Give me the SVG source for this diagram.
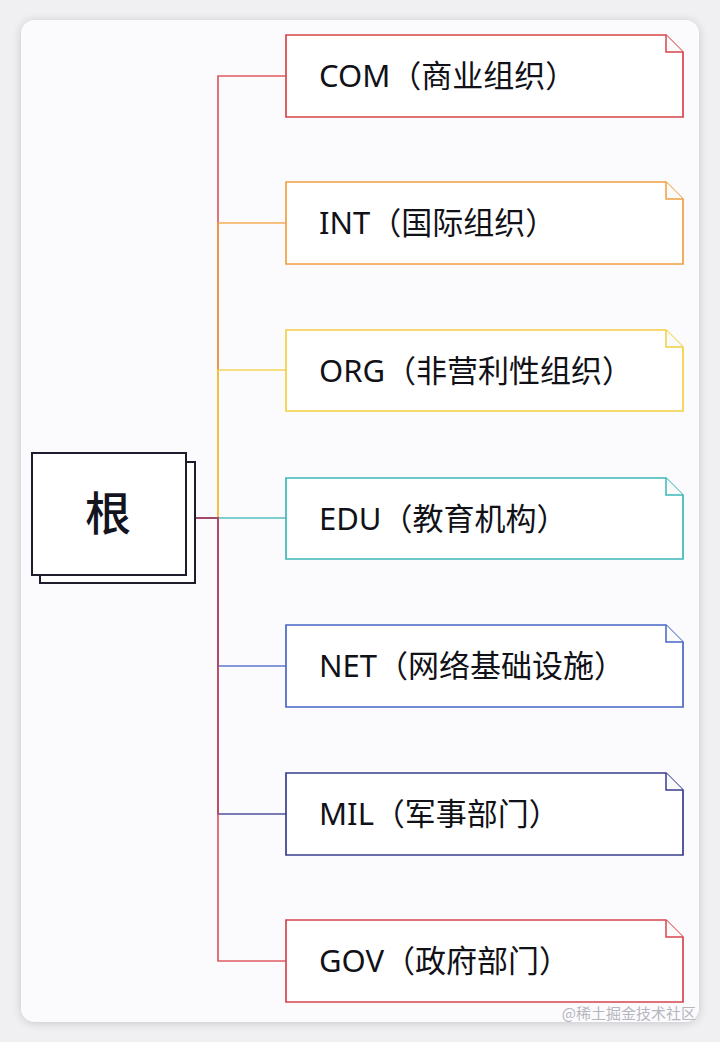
<svg xmlns="http://www.w3.org/2000/svg" width="720" height="1042" viewBox="0 0 720 1042">
<defs>
<filter id="sh" x="-5%" y="-5%" width="110%" height="110%">
<feGaussianBlur in="SourceAlpha" stdDeviation="5"/>
<feOffset dx="0" dy="1"/>
<feComponentTransfer><feFuncA type="linear" slope="0.18"/></feComponentTransfer>
<feMerge><feMergeNode/><feMergeNode in="SourceGraphic"/></feMerge>
</filter>
</defs>
<style>
.lbl{font-family:"Noto Sans","Noto Sans CJK SC",sans-serif;font-size:31px;fill:#111118}
.root{font-family:"Noto Sans CJK SC",sans-serif;font-size:46px;font-weight:500;fill:#14141f}
.node{fill:#ffffff;stroke-width:1.7}
.fold{fill:#fafafa;stroke-width:1.5}
.c{fill:none;stroke-width:1.7;opacity:0.88}
.wm{font-family:"Noto Sans CJK SC",sans-serif;font-size:15px;fill:#b6b6be}
</style>
<rect width="720" height="1042" fill="#f0f0f3"/>
<rect x="21" y="20" width="678" height="1002" rx="14" fill="#fbfbfd" filter="url(#sh)"/>

<g id="connectors">
<path class="c" stroke="#d8444a" d="M195 518 H218 V76 H286"/>
<path class="c" stroke="#f0a040" d="M195 518 H218 V223 H286"/>
<path class="c" stroke="#f2d040" d="M195 518 H218 V370 H286"/>
<path class="c" stroke="#3cb8b8" d="M195 518 H286"/>
<path class="c" stroke="#4866c8" d="M195 518 H218 V666 H286"/>
<path class="c" stroke="#383c8c" d="M195 518 H218 V814 H286"/>
<path class="c" stroke="#d8444e" d="M195 518 H218 V961 H286"/>
</g>

<g id="root">
<rect x="40" y="462" width="155" height="121" fill="#ffffff" stroke="#1c1c2c" stroke-width="2"/>
<rect x="32" y="453" width="154" height="122" fill="#ffffff" stroke="#1c1c2c" stroke-width="2"/>
<text class="root" x="108" y="530" text-anchor="middle">根</text>
</g>

<g id="com">
<path class="node" stroke="#d8444a" d="M286 35 H666 L683 52 V117 H286 Z"/>
<path class="fold" stroke="#d8444a" d="M666 35 V52 H683"/>
<text class="lbl" x="319" y="87">COM（商业组织）</text>
</g>
<g id="int">
<path class="node" stroke="#f0a040" d="M286 182 H666 L683 199 V264 H286 Z"/>
<path class="fold" stroke="#f0a040" d="M666 182 V199 H683"/>
<text class="lbl" x="319" y="234">INT（国际组织）</text>
</g>
<g id="org">
<path class="node" stroke="#f2d040" d="M286 330 H666 L683 347 V411 H286 Z"/>
<path class="fold" stroke="#f2d040" d="M666 330 V347 H683"/>
<text class="lbl" x="319" y="382">ORG（非营利性组织）</text>
</g>
<g id="edu">
<path class="node" stroke="#3cb8b8" d="M286 478 H666 L683 495 V559 H286 Z"/>
<path class="fold" stroke="#3cb8b8" d="M666 478 V495 H683"/>
<text class="lbl" x="319" y="530">EDU（教育机构）</text>
</g>
<g id="net">
<path class="node" stroke="#4866c8" d="M286 625 H666 L683 642 V707 H286 Z"/>
<path class="fold" stroke="#4866c8" d="M666 625 V642 H683"/>
<text class="lbl" x="319" y="677">NET（网络基础设施）</text>
</g>
<g id="mil">
<path class="node" stroke="#383c8c" d="M286 773 H666 L683 790 V855 H286 Z"/>
<path class="fold" stroke="#383c8c" d="M666 773 V790 H683"/>
<text class="lbl" x="319" y="825">MIL（军事部门）</text>
</g>
<g id="gov">
<path class="node" stroke="#d8444e" d="M286 920 H666 L683 937 V1002 H286 Z"/>
<path class="fold" stroke="#d8444e" d="M666 920 V937 H683"/>
<text class="lbl" x="319" y="972">GOV（政府部门）</text>
</g>

<text class="wm" x="696" y="1019" text-anchor="end">@稀土掘金技术社区</text>
</svg>
